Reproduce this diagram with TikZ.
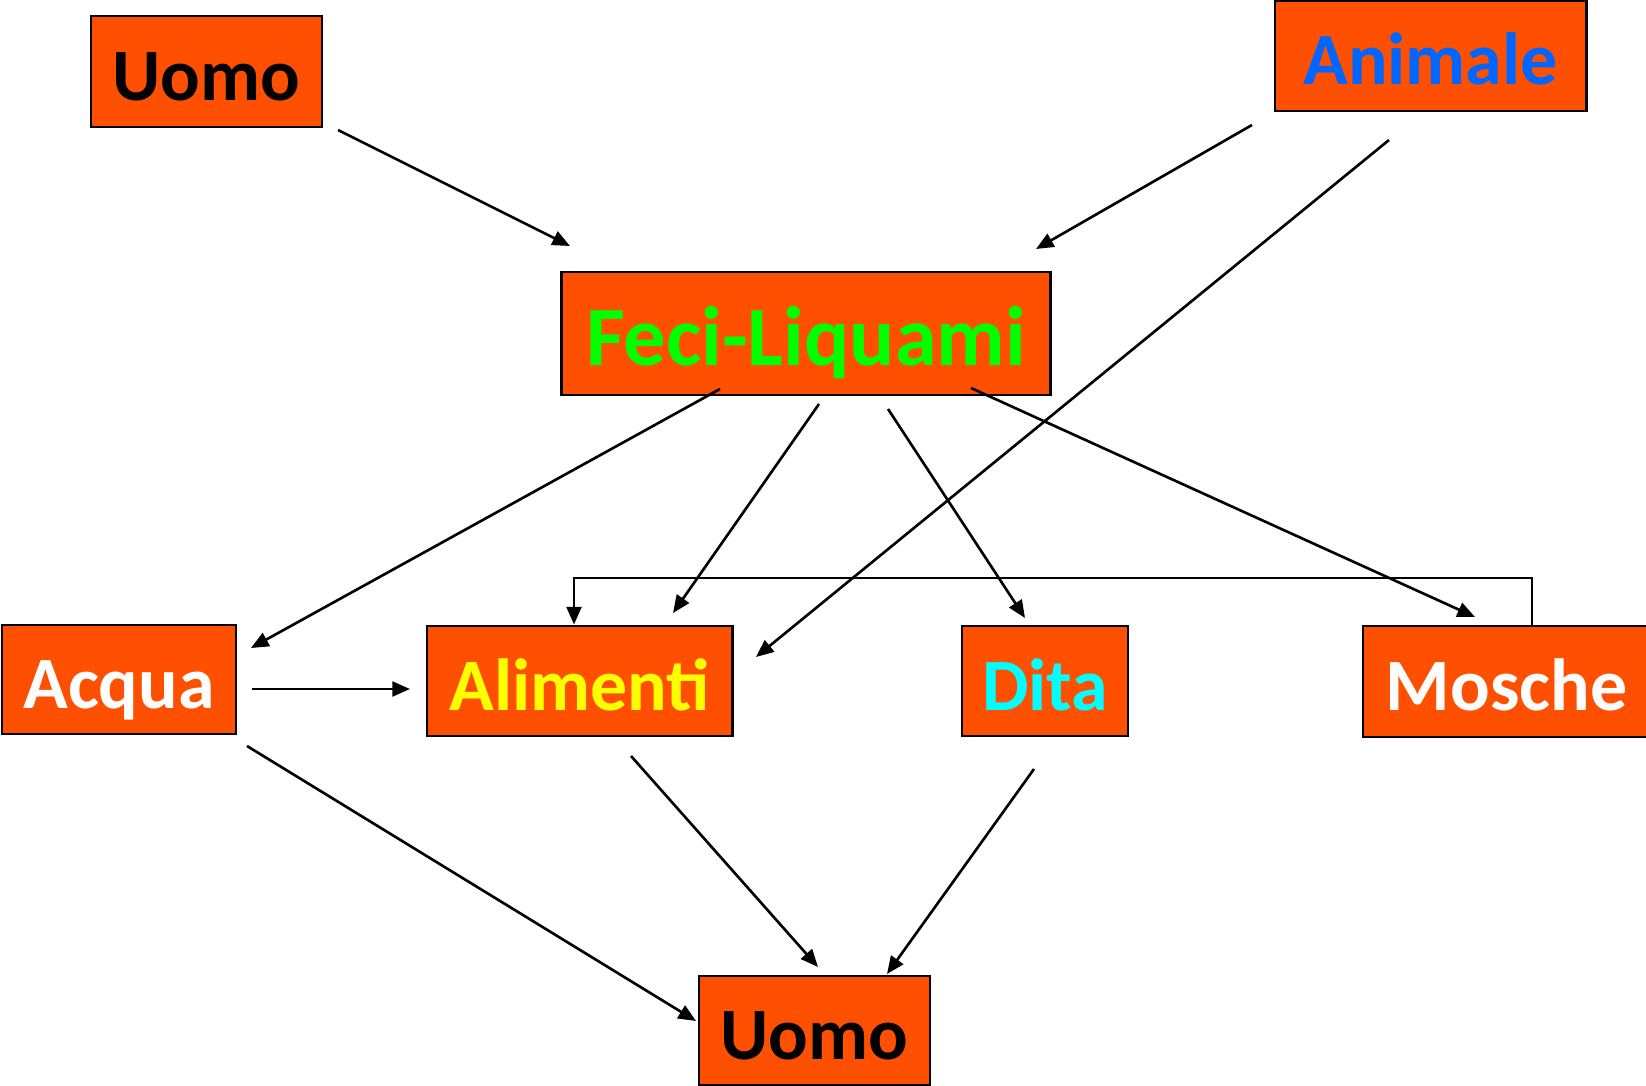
\documentclass[tikz,border=0pt]{standalone}
\usepackage{fontspec}
\setmainfont{Carlito}
\usetikzlibrary{arrows.meta}

\definecolor{boxorange}{RGB}{255,79,0}
\definecolor{animblue}{RGB}{0,102,255}
\definecolor{fecigreen}{RGB}{0,255,0}
\definecolor{alimyellow}{RGB}{255,255,0}
\definecolor{ditacyan}{RGB}{0,255,255}

\begin{document}
\begin{tikzpicture}[x=0.01cm,y=-0.01cm,
    box/.style={draw=black,line width=0.8pt,fill=boxorange,inner sep=0pt,
      font=\bfseries\fontsize{21}{25}\selectfont,text height=16.5pt,text depth=0pt},
    arr/.style={line width=0.75pt,-{Triangle[length=5pt,width=4.2pt]}}]

    \useasboundingbox (0,0) rectangle (1646,1086);

    \node[box,minimum width=2.31cm,minimum height=1.11cm] (uomo1) at (206.5,71.5) {Uomo};
    \node[box,minimum width=3.11cm,minimum height=1.10cm,text=animblue] (animale) at (1430.5,56) {Animale};
    \node[box,minimum width=4.88cm,minimum height=1.23cm,text=fecigreen,
      font=\bfseries\fontsize{24}{28}\selectfont,text height=18.3pt] (feci) at (806,333.5) {Feci-Liquami};

    \node[box,minimum width=2.34cm,minimum height=1.09cm,text=white] (acqua) at (119,679.5) {Acqua};
    \node[box,minimum width=3.05cm,minimum height=1.10cm,text=alimyellow] (alimenti) at (579.5,681) {Alimenti};
    \node[box,minimum width=1.66cm,minimum height=1.10cm,text=ditacyan] (dita) at (1045,681) {Dita};
    \node[box,minimum width=2.87cm,minimum height=1.11cm,text=white] (mosche) at (1506.5,681.5) {Mosche};

    \node[box,minimum width=2.31cm,minimum height=1.09cm] (uomo2) at (814.5,1030.5) {Uomo};

    \coordinate (0) at (338,130);
    \coordinate (1) at (570,246);
    \coordinate (2) at (1252,125);
    \coordinate (3) at (1036,249);
    \coordinate (4) at (1389,140);
    \coordinate (5) at (756,657);
    \coordinate (6) at (720,389);
    \coordinate (7) at (251,648);
    \coordinate (8) at (819,404);
    \coordinate (9) at (673,613);
    \coordinate (10) at (888,409);
    \coordinate (11) at (1025,618);
    \coordinate (12) at (971,388);
    \coordinate (13) at (1475,617);
    \coordinate (14) at (252,689);
    \coordinate (15) at (410,689);
    \coordinate (16) at (247,746);
    \coordinate (17) at (696,1021);
    \coordinate (18) at (631,756);
    \coordinate (19) at (818,967);
    \coordinate (20) at (1034,769);
    \coordinate (21) at (887,974);

    \foreach \a/\b in {0/1, 2/3, 4/5, 6/7, 8/9, 10/11, 12/13, 14/15, 16/17, 18/19, 20/21}
    \draw[arr] (\a) -- (\b);

    \coordinate (m) at (1532,578);
    \coordinate (n) at (574,578);
    \draw[arr] (mosche.north -| m) -- (m) -- (n) -- (alimenti.north -| n);

  \end{tikzpicture}
\end{document}
